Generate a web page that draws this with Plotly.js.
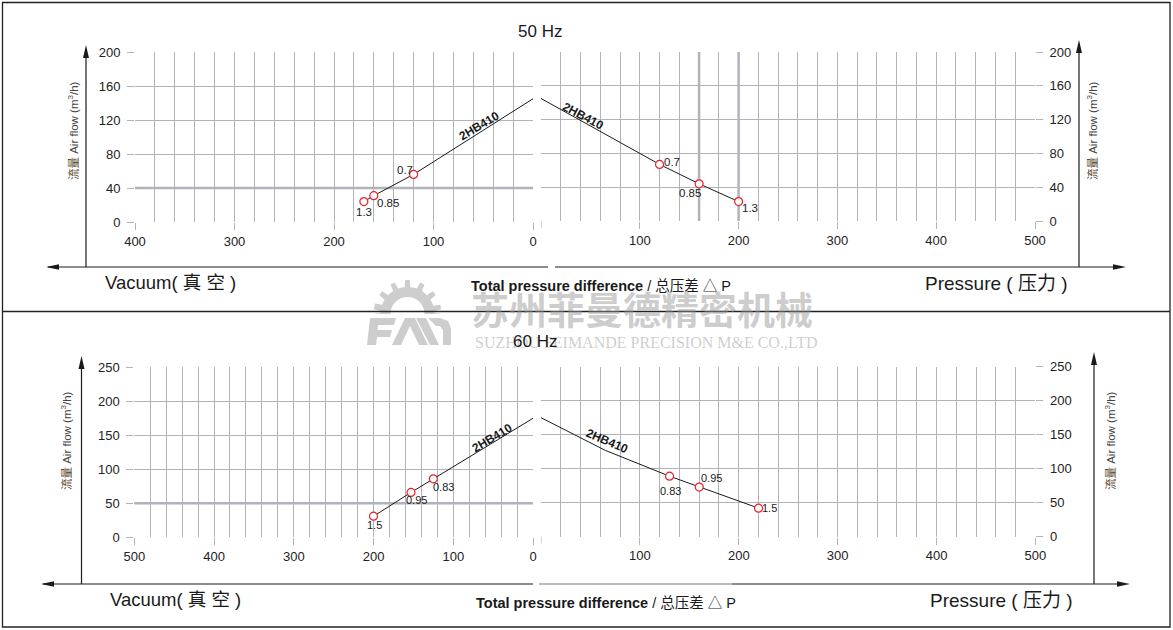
<!DOCTYPE html>
<html>
<head>
<meta charset="utf-8">
<script src="https://cdn.plot.ly/plotly-3.0.1.min.js"></script>
<style>html,body{margin:0;padding:0;background:#fff;}#chart{width:1173px;height:630px;}</style>
</head>
<body>
<div id="chart"></div>
<script>
// ---------------- DATA ----------------
const modelName = '2HB410';
// 50 Hz
const flowAtZero50 = 145;                    // m3/h at 0 pressure difference
const vac50_dp = [120, 160, 170];            // vacuum (mbar)
const vac50_q  = [56, 31, 24];               // airflow (m3/h)
const pre50_dp = [120, 160, 200];            // pressure (mbar)
const pre50_q  = [67, 44, 23];
const kw50     = ['0.7', '0.85', '1.3'];     // motor power labels (kW)
// 60 Hz
const flowAtZero60 = 175;
const vac60_dp = [125, 153, 200];
const vac60_q  = [86, 66, 31];
const pre60_dp = [130, 160, 220];
const pre60_q  = [89, 73, 42];
const pre60_mid_dp = [65];                   // extra point read on the curve
const pre60_mid_q  = [127];
const kw60     = ['0.83', '0.95', '1.5'];
// tick values
const xTicks50Vac = [0, 100, 200, 300, 400];
const xTicks60Vac = [0, 100, 200, 300, 400, 500];
const xTicksPre   = [100, 200, 300, 400, 500];
const yTicks50 = [0, 40, 80, 120, 160, 200];
const yTicks60 = [0, 50, 100, 150, 200, 250];

// ---------------- LAYOUT HELPERS ----------------
const W = 1173, H = 630;
const X = p => p / W;
const Y = p => 1 - p / H;
const FONT = 'Liberation Sans, Arial, Noto Sans CJK SC, sans-serif';
const GRID = '#b2b2ba';
const BLACK = '#1a1a1a';
const RED = '#e8202a';

function poly(pts) {
  return 'M' + pts.map(p => X(p[0]).toFixed(5) + ',' + Y(p[1]).toFixed(5)).join(' L') + ' Z';
}
function pshape(pts, color, layer) {
  return {type: 'path', xref: 'paper', yref: 'paper', path: poly(pts),
          fillcolor: color, line: {width: 0}, layer: layer || 'above'};
}
function lineShape(x0, y0, x1, y1, color, w, layer) {
  return {type: 'line', xref: 'paper', yref: 'paper', x0: X(x0), y0: Y(y0), x1: X(x1), y1: Y(y1),
          line: {color: color, width: w}, layer: layer || 'above'};
}

// ---------------- TRACES ----------------
function curve(xa, ya, dp0, q0, dp, q) {
  return {x: dp0.concat(dp), y: q0.concat(q), xaxis: xa, yaxis: ya, type: 'scatter', mode: 'lines',
          line: {color: BLACK, width: 1}, hoverinfo: 'skip', showlegend: false};
}
function pts(xa, ya, dp, q) {
  return {x: dp, y: q, xaxis: xa, yaxis: ya, type: 'scatter', mode: 'markers',
          marker: {symbol: 'circle', size: 8, color: '#ffffff', line: {color: RED, width: 1.2}},
          hoverinfo: 'skip', showlegend: false};
}
const traces = [
  curve('x', 'y', [0], [flowAtZero50], vac50_dp, vac50_q),
  pts('x', 'y', vac50_dp, vac50_q),
  curve('x2', 'y2', [0], [flowAtZero50], pre50_dp, pre50_q),
  pts('x2', 'y2', pre50_dp, pre50_q),
  curve('x3', 'y3', [0], [flowAtZero60], vac60_dp, vac60_q),
  pts('x3', 'y3', vac60_dp, vac60_q),
  curve('x4', 'y4', [0].concat(pre60_mid_dp), [flowAtZero60].concat(pre60_mid_q), pre60_dp, pre60_q),
  pts('x4', 'y4', pre60_dp, pre60_q)
];

// ---------------- AXES ----------------
function xax(domain, range, anchor, tickvals) {
  return {domain: domain, range: range, anchor: anchor, tickmode: 'array', tickvals: tickvals,
          showgrid: true, gridcolor: GRID, gridwidth: 1, zeroline: false, showline: false,
          ticks: 'outside', ticklen: 7, tickcolor: GRID, tickwidth: 1,
          minor: {dtick: 20, showgrid: true, gridcolor: GRID, gridwidth: 1, ticks: ''},
          tickfont: {family: FONT, size: 13, color: '#222'}, fixedrange: true};
}
function yax(domain, range, anchor, tickvals, side) {
  return {domain: domain, range: range, anchor: anchor, side: side, tickmode: 'array', tickvals: tickvals,
          showgrid: true, gridcolor: GRID, gridwidth: 1, zeroline: false, showline: false,
          ticks: 'outside', ticklen: 7, tickcolor: GRID, tickwidth: 1, ticklabelstandoff: 4,
          tickfont: {family: FONT, size: 13, color: '#222'}, fixedrange: true};
}

// ---------------- SHAPES ----------------
const shapes = [];
// frame and divider
shapes.push({type: 'rect', xref: 'paper', yref: 'paper', x0: X(2.5), y0: Y(627), x1: X(1170), y1: Y(2.5),
             line: {color: '#222', width: 1.3}, layer: 'above'});
shapes.push(lineShape(2.5, 311.5, 1170, 311.5, '#222', 1.3));
// tick marks at 0 of the pressure axes (label shared with the vacuum axis)
shapes.push({type: 'line', xref: 'x2', yref: 'paper', x0: 0, x1: 0, y0: Y(221), y1: Y(228), line: {color: GRID, width: 1}, layer: 'below'});
shapes.push({type: 'line', xref: 'x4', yref: 'paper', x0: 0, x1: 0, y0: Y(536.7), y1: Y(543.7), line: {color: GRID, width: 1}, layer: 'below'});
// emphasised grid lines
shapes.push({type: 'line', xref: 'x', yref: 'y', x0: 400, x1: 0, y0: 40, y1: 40, line: {color: GRID, width: 2.5}, layer: 'below'});
shapes.push({type: 'line', xref: 'x2', yref: 'y2', x0: 160, x1: 160, y0: 0, y1: 200, line: {color: GRID, width: 2.5}, layer: 'below'});
shapes.push({type: 'line', xref: 'x2', yref: 'y2', x0: 200, x1: 200, y0: 0, y1: 200, line: {color: GRID, width: 2.5}, layer: 'below'});
shapes.push({type: 'line', xref: 'x3', yref: 'y3', x0: 500, x1: 0, y0: 50, y1: 50, line: {color: GRID, width: 2.5}, layer: 'below'});

// arrows (axis frame lines)
function arrowUp(x, yTip) { return pshape([[x, yTip], [x - 3, yTip + 13], [x + 3, yTip + 13]], BLACK); }
function arrowLeft(xTip, y) { return pshape([[xTip, y], [xTip + 13, y - 2.8], [xTip + 13, y + 2.8]], BLACK); }
function arrowRight(xTip, y) { return pshape([[xTip, y], [xTip - 13, y - 2.8], [xTip - 13, y + 2.8]], BLACK); }
// top panel
shapes.push(lineShape(48, 267, 548, 267, BLACK, 1.2));
shapes.push(lineShape(555, 267, 1120, 267, BLACK, 1.2));
shapes.push(arrowLeft(46, 267), arrowRight(1126, 267));
shapes.push(lineShape(86, 267, 86, 52, BLACK, 1.2), arrowUp(86, 45));
shapes.push(lineShape(1079, 267, 1079, 48, BLACK, 1.2), arrowUp(1079, 40));
// bottom panel
shapes.push(lineShape(43, 584, 533, 584, BLACK, 1.2));
shapes.push(lineShape(539, 584, 732, 584, '#777', 1.2));
shapes.push(lineShape(732, 584, 1124, 584, BLACK, 1.2));
shapes.push(arrowLeft(41, 584), arrowRight(1130, 584));
shapes.push(lineShape(81.5, 584, 81.5, 364, BLACK, 1.2), arrowUp(81.5, 356));
shapes.push(lineShape(1094, 584, 1094, 360, BLACK, 1.2), arrowUp(1094, 352));

// watermark logo (gear + letters), light grey
const WM = 'rgba(150,150,150,0.48)';
(function () {
  const cx = 407.5, cy = 314, rBody = 27, rTip = 34, rIn = 17;
  const outer = [];
  const nT = 7;
  for (let i = 0; i <= 180; i += 2) {
    const a = Math.PI * (1 - i / 180);
    const seg = (i / 180) * (nT - 0.001);
    const frac = seg - Math.floor(seg);
    const r = (frac > 0.3 && frac < 0.7) || i === 0 || i === 180 ? rTip : rBody;
    outer.push([cx + r * Math.cos(a), cy - r * Math.sin(a)]);
  }
  const inner = [];
  for (let i = 180; i >= 0; i -= 5) {
    const a = Math.PI * (1 - i / 180);
    inner.push([cx + rIn * Math.cos(a), cy - rIn * Math.sin(a)]);
  }
  shapes.push(pshape(outer.concat(inner), WM, 'below'));
})();
shapes.push(pshape([[367,345],[370,318],[396,318],[394,325],[378,325],[377.5,330],[392,330],[390,337],[377,337],[376,345]], WM, 'below'));
shapes.push(pshape([[392,345],[405,318],[415,318],[428,345],[419,345],[410,326],[401,345]], WM, 'below'));
shapes.push(pshape([[416,318],[426,318],[439,345],[430,345]], WM, 'below'));
shapes.push(pshape([[428,318],[440,318],[448,321],[451,328],[451,345],[443,345],[443,330],[440,326],[436,326]], WM, 'below'));

// ---------------- ANNOTATIONS ----------------
const ann = [];
function txt(x, y, text, size, opts) {
  return Object.assign({xref: 'paper', yref: 'paper', x: X(x), y: Y(y), text: text, showarrow: false,
                        xanchor: 'center', yanchor: 'middle',
                        font: {family: FONT, size: size, color: '#1a1a1a'}}, opts || {});
}
// watermark text
ann.push(txt(642, 307, '<b>苏州菲曼德精密机械</b>', 38, {font: {family: 'Noto Sans CJK SC, sans-serif', size: 38, color: WM}}));
ann.push(txt(646, 342, 'SUZHOU FEIMANDE PRECISION M&amp;E CO.,LTD', 16, {font: {family: 'Liberation Serif, serif', size: 16, color: WM}}));

// titles
ann.push(txt(540, 31, '50 Hz', 17));
ann.push(txt(535, 341, '60 Hz', 17));
ann.push(txt(103, 282, 'Vacuum( 真 空 )', 18.5, {xanchor: 'left'}));
ann.push(txt(108, 599, 'Vacuum( 真 空 )', 18.5, {xanchor: 'left'}));
ann.push(txt(923, 283, 'Pressure ( 压力 )', 19, {xanchor: 'left'}));
ann.push(txt(928, 600, 'Pressure ( 压力 )', 19, {xanchor: 'left'}));
const tpd = '<b>Total pressure difference</b> / 总压差 △ P';
ann.push(txt(469, 286, tpd, 14.5, {xanchor: 'left'}));
ann.push(txt(474, 603, tpd, 14.5, {xanchor: 'left'}));

// y axis titles
const yTitle = '<span style="color:#5b4a2e">流量</span> Air flow (m<sup>3</sup>/h)';
[[73, 131], [1092, 131], [66, 441], [1110, 441]].forEach(p => {
  ann.push(txt(p[0], p[1], yTitle, 11.5, {textangle: -90, font: {family: FONT, size: 11.5, color: '#444'}}));
});

// model labels along curves
ann.push(txt(479, 126, '<b>' + modelName + '</b>', 12, {textangle: -31}));
ann.push(txt(583, 116, '<b>' + modelName + '</b>', 12, {textangle: 28}));
ann.push(txt(492, 438, '<b>' + modelName + '</b>', 12, {textangle: -31}));
ann.push(txt(607, 441, '<b>' + modelName + '</b>', 12, {textangle: 23}));

// power labels at points
function ptLabels(xa, ya, dp, q, labels, shifts, size) {
  dp.forEach((v, i) => {
    ann.push({xref: xa, yref: ya, x: v, y: q[i], text: labels[i], showarrow: false,
              xanchor: 'center', yanchor: 'middle', xshift: shifts[i][0], yshift: shifts[i][1],
              font: {family: FONT, size: size, color: '#222'}});
  });
}
ptLabels('x', 'y', vac50_dp, vac50_q, kw50, [[-9, 4], [14, -7], [0, -10]], 11.5);
ptLabels('x2', 'y2', pre50_dp, pre50_q, kw50, [[12, 2], [-9, -9], [11, -6]], 11.5);
ptLabels('x3', 'y3', vac60_dp, vac60_q, kw60, [[10, -8], [5, -8], [1, -9]], 11);
ptLabels('x4', 'y4', pre60_dp, pre60_q, kw60, [[1, -15], [12, 9], [11, 0]], 11);

const layout = {
  width: W, height: H, margin: {l: 0, r: 0, t: 0, b: 0},
  paper_bgcolor: '#ffffff', plot_bgcolor: 'rgba(0,0,0,0)', showlegend: false,
  font: {family: FONT},
  xaxis:  xax([X(135), X(533)], [400, 0], 'y', xTicks50Vac),
  yaxis:  yax([Y(222), Y(52)], [0, 200], 'x', yTicks50, 'left'),
  xaxis2: xax([X(541), X(1035)], [0, 500], 'y2', xTicksPre),
  yaxis2: yax([Y(221), Y(52)], [0, 200], 'x2', yTicks50, 'right'),
  xaxis3: xax([X(134.3), X(533)], [500, 0], 'y3', xTicks60Vac),
  yaxis3: yax([Y(537.3), Y(367.3)], [0, 250], 'x3', yTicks60, 'left'),
  xaxis4: xax([X(541), X(1035.4)], [0, 500], 'y4', xTicksPre),
  yaxis4: yax([Y(536.7), Y(366.7)], [0, 250], 'x4', yTicks60, 'right'),
  shapes: shapes,
  annotations: ann
};
Plotly.newPlot('chart', traces, layout, {staticPlot: true, displayModeBar: false});
</script>
</body>
</html>
